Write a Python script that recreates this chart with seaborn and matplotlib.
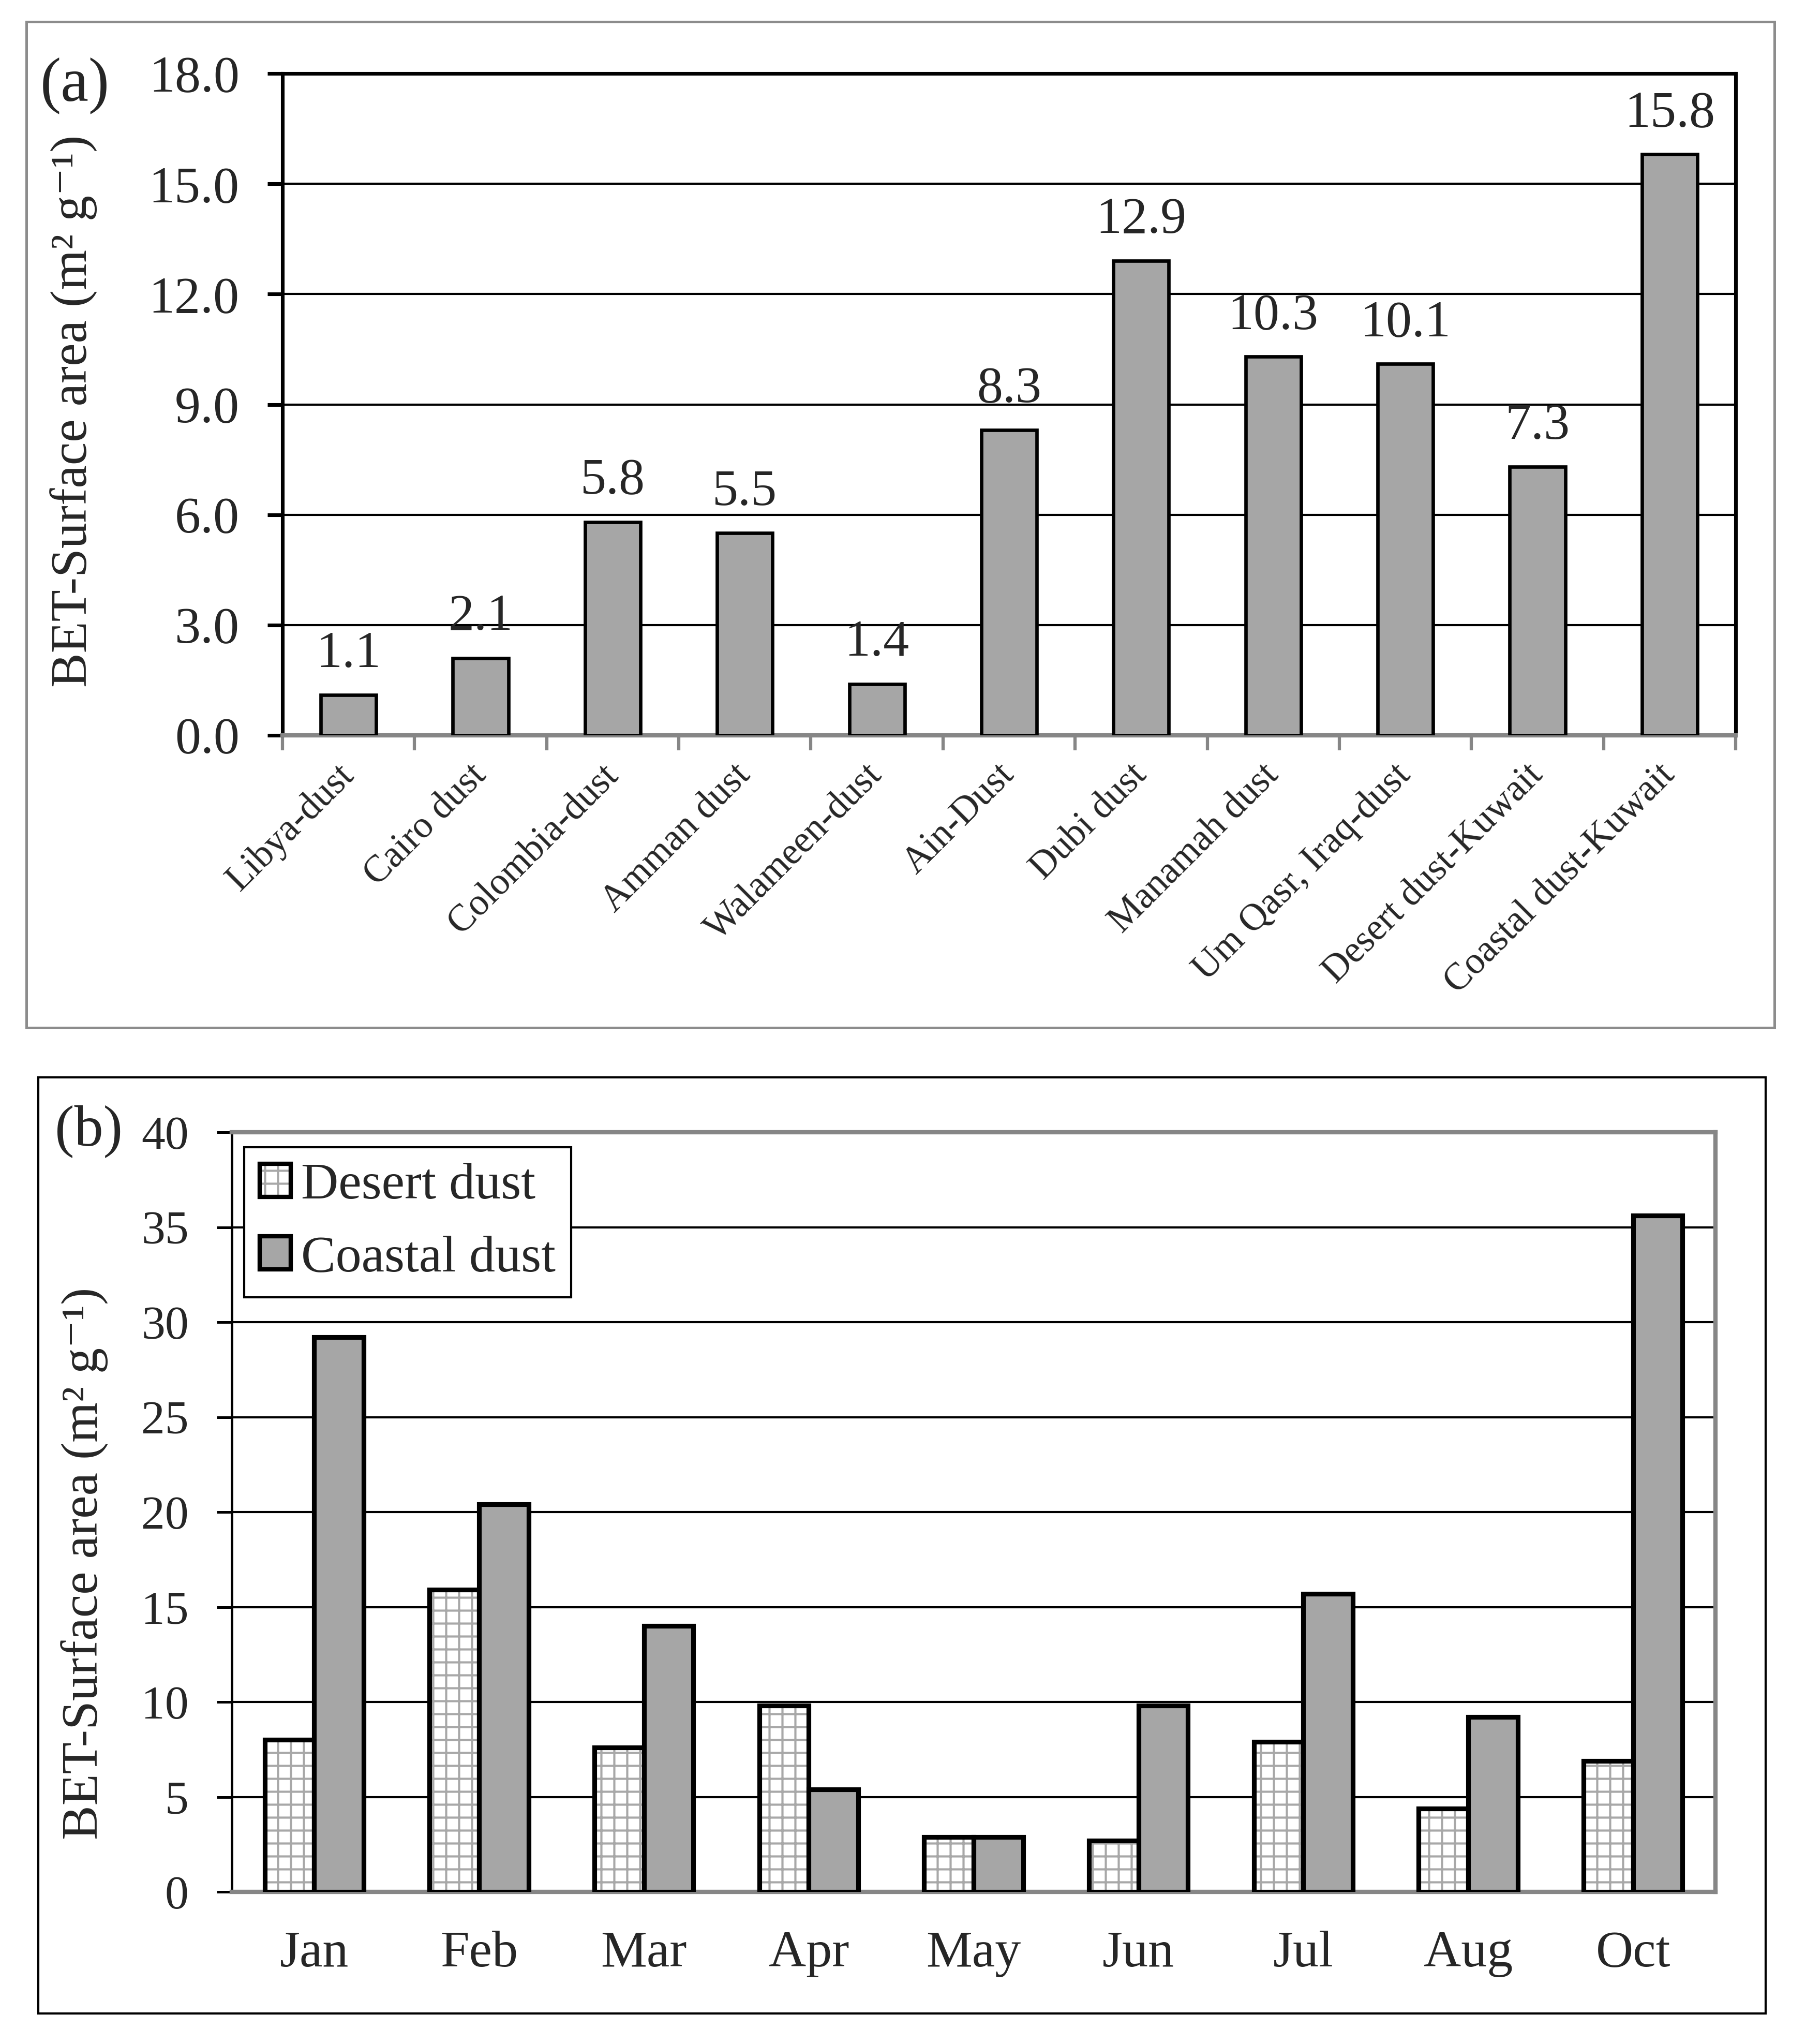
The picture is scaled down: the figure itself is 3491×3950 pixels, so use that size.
import numpy as np
import pandas as pd
import matplotlib
matplotlib.use("Agg")
import matplotlib.pyplot as plt
import matplotlib.patches as mpatches
from matplotlib.ticker import FixedLocator, FormatStrFormatter
import seaborn as sns

# ---------------- data ----------------
sites = ["Libya-dust", "Cairo dust", "Colombia-dust", "Amman dust", "Walameen-dust",
         "Ain-Dust", "Dubi dust", "Manamah dust", "Um Qasr, Iraq-dust",
         "Desert dust-Kuwait", "Coastal dust-Kuwait"]
site_bet = [1.1, 2.1, 5.8, 5.5, 1.4, 8.3, 12.9, 10.3, 10.1, 7.3, 15.8]

months = ["Jan", "Feb", "Mar", "Apr", "May", "Jun", "Jul", "Aug", "Oct"]
desert_bet = [8.0, 15.9, 7.6, 9.8, 2.9, 2.7, 7.9, 4.4, 6.9]
coastal_bet = [29.2, 20.4, 14.0, 5.4, 2.9, 9.8, 15.7, 9.2, 35.6]
series_names = ["Desert dust", "Coastal dust"]

ylabel = "BET-Surface area (m\u00b2 g\u207b\u00b9)"

# ---------------- style ----------------
sns.set_theme(style="white")
plt.rcParams["font.family"] = ["Liberation Serif", "DejaVu Serif"]
plt.rcParams["hatch.linewidth"] = 1.0

GRAY_BAR = "#A6A6A6"
GRAY_AX = "#868686"
HATCH_GRAY = (0.66, 0.66, 0.66, 1.0)

W, H, DPI = 3491, 3950, 300
fig = plt.figure(figsize=(W / DPI, H / DPI), dpi=DPI)

def fx(px):
    return px / W

def fy(py):
    return 1 - py / H

# outer frames
fig.add_artist(mpatches.Rectangle((fx(51), fy(1986)), fx(3430) - fx(51), fy(42) - fy(1986),
                                  transform=fig.transFigure, fill=False,
                                  edgecolor="#8C8C8C", linewidth=1.2))
fig.add_artist(mpatches.Rectangle((fx(74), fy(3891)), fx(3413) - fx(74), fy(2082) - fy(3891),
                                  transform=fig.transFigure, fill=False,
                                  edgecolor="black", linewidth=1.0))

# ---------------- panel (a) ----------------
axa = fig.add_axes([fx(546), fy(1421), fx(3355) - fx(546), fy(142) - fy(1421)])
df_a = pd.DataFrame({"site": sites, "bet": site_bet})
sns.barplot(data=df_a, x="site", y="bet", color=GRAY_BAR, saturation=1, width=0.42,
            edgecolor="black", linewidth=1.6, ax=axa, zorder=3)
axa.set_ylim(0, 18)
axa.set_xlim(-0.5, len(sites) - 0.5)
axa.yaxis.set_major_locator(FixedLocator(np.arange(0, 18.01, 3)))
axa.yaxis.set_major_formatter(FormatStrFormatter("%.1f"))
axa.grid(axis="y", color="black", linewidth=1.0, zorder=0)
axa.grid(axis="x", visible=False)
axa.set_axisbelow(True)
for s in ["left", "top", "right"]:
    axa.spines[s].set_color("black")
    axa.spines[s].set_linewidth(1.7)
axa.spines["bottom"].set_color(GRAY_AX)
axa.spines["bottom"].set_linewidth(2.0)
axa.tick_params(axis="y", which="major", direction="out", length=7, width=1.7,
                color="black", labelsize=24, pad=13, left=True)
axa.tick_params(axis="x", which="major", length=0, pad=16)
axa.xaxis.set_minor_locator(FixedLocator(np.arange(-0.5, len(sites), 1.0)))
axa.tick_params(axis="x", which="minor", direction="out", length=7, width=1.5,
                color=GRAY_AX, bottom=True)
for lbl in axa.get_xticklabels():
    lbl.set_rotation(45)
    lbl.set_ha("right")
    lbl.set_va("center")
    lbl.set_rotation_mode("anchor")
    lbl.set_fontsize(17.5)
axa.set_xlabel("")
axa.set_ylabel(ylabel, fontsize=24)
axa.yaxis.set_label_coords(-0.127, 0.49)
axa.bar_label(axa.containers[0], fmt="%.1f", padding=8, fontsize=24)
fig.text(fx(78), fy(166), "(a)", fontsize=29, ha="left", va="center")

# ---------------- panel (b) ----------------
axb = fig.add_axes([fx(448), fy(3656), fx(3316) - fx(448), fy(2188) - fy(3656)])
df_b = pd.DataFrame({
    "month": months * 2,
    "bet": desert_bet + coastal_bet,
    "type": [series_names[0]] * len(months) + [series_names[1]] * len(months),
})
sns.barplot(data=df_b, x="month", y="bet", hue="type", hue_order=series_names,
            palette={series_names[0]: "white", series_names[1]: GRAY_BAR},
            saturation=1, width=0.6, edgecolor="black", linewidth=2.2,
            legend=False, ax=axb, zorder=3)
for p in axb.containers[0]:
    p.set_hatch("++")
    p._hatch_color = HATCH_GRAY
    p.stale = True
axb.set_ylim(0, 40)
axb.set_xlim(-0.5, len(months) - 0.5)
axb.yaxis.set_major_locator(FixedLocator(np.arange(0, 40.01, 5)))
axb.grid(axis="y", color="black", linewidth=1.0, zorder=0)
axb.grid(axis="x", visible=False)
axb.set_axisbelow(True)
for s in ["top", "right", "bottom"]:
    axb.spines[s].set_color(GRAY_AX)
    axb.spines[s].set_linewidth(2.0)
axb.spines["left"].set_color("black")
axb.spines["left"].set_linewidth(1.2)
axb.tick_params(axis="y", which="major", direction="out", length=7, width=1.2,
                color="black", labelsize=22, pad=13, left=True)
axb.tick_params(axis="x", which="major", length=0, labelsize=24, pad=18)
axb.set_xlabel("")
axb.set_ylabel(ylabel, fontsize=24)
axb.yaxis.set_label_coords(-0.083, 0.4326)

h_desert = mpatches.Patch(facecolor="white", edgecolor="black", hatch="++", linewidth=2.0)
h_desert._hatch_color = HATCH_GRAY
h_coastal = mpatches.Patch(facecolor=GRAY_BAR, edgecolor="black", linewidth=2.0)
leg = axb.legend([h_desert, h_coastal], series_names, loc="upper left",
                 bbox_to_anchor=((472 - 448) / 2868, (3656 - 2217) / 1468),
                 borderaxespad=0, fontsize=24, frameon=True, fancybox=False,
                 framealpha=1, edgecolor="black", handlelength=0.6, handleheight=0.6,
                 handletextpad=0.2, labelspacing=0.5, borderpad=0.3)
leg.get_frame().set_linewidth(1.0)
fig.text(fx(106), fy(2186), "(b)", fontsize=27, ha="left", va="center")

fig.savefig("out.png", dpi=DPI)
